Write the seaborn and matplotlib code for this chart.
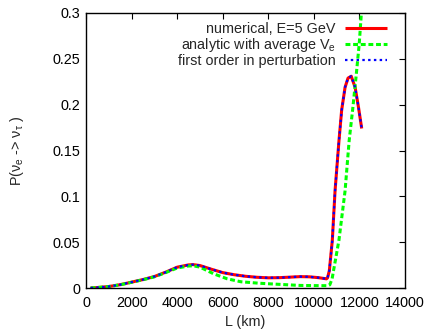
import matplotlib
matplotlib.use("Agg")
import matplotlib.pyplot as plt
import seaborn as sns
import pandas as pd

# ---- data ----
L_num = [200, 500, 1000, 1500, 2000, 2500, 3000, 3500, 4000, 4500, 4700, 5000,
         5500, 6000, 6500, 7000, 7500, 8000, 8500, 9000, 9400, 9800, 10200,
         10550, 10600, 10680, 10810, 10930, 11100, 11220, 11370, 11500, 11640,
         11810, 11960, 12100]
P_num = [0.0, 0.0005, 0.0016, 0.0036, 0.0064, 0.0092, 0.0125, 0.0173, 0.0227,
         0.0252, 0.0255, 0.0245, 0.0205, 0.0168, 0.0145, 0.0128, 0.0117, 0.0111,
         0.0113, 0.0119, 0.0124, 0.0122, 0.0113, 0.0100, 0.0110, 0.019, 0.052,
         0.106, 0.160, 0.194, 0.219, 0.229, 0.231, 0.219, 0.197, 0.174]

L_ana = [200, 500, 1000, 1500, 2000, 2500, 3000, 3500, 4000, 4500, 4700, 5000,
         5600, 6200, 6800, 7600, 8100, 9000, 9400, 10000, 10600, 10700, 10800,
         10900, 11100, 11370, 11550, 11700, 11850, 11990, 12100]
P_ana = [0.0, 0.0005, 0.0016, 0.0035, 0.0062, 0.0090, 0.0122, 0.0168, 0.0218,
         0.0240, 0.0242, 0.0228, 0.0155, 0.0100, 0.0068, 0.0052, 0.0045, 0.0033,
         0.0028, 0.0026, 0.0025, 0.0035, 0.010, 0.024, 0.052, 0.106, 0.161,
         0.194, 0.230, 0.266, 0.305]

L_pert = [200, 500, 1000, 1500, 2000, 2500, 3000, 3500, 4000, 4500, 4700, 5000,
          5500, 6000, 6500, 7000, 7500, 8000, 8500, 9000, 9400, 9800, 10200,
          10550, 10600, 10680, 10810, 10930, 11100, 11220, 11370, 11500, 11640,
          11810, 11960, 12100]
P_pert = [0.0, 0.0005, 0.0016, 0.0036, 0.0064, 0.0092, 0.0125, 0.0173, 0.0227,
          0.0252, 0.0255, 0.0245, 0.0205, 0.0168, 0.0145, 0.0128, 0.0117, 0.0111,
          0.0113, 0.0119, 0.0124, 0.0122, 0.0113, 0.0100, 0.0110, 0.019, 0.052,
          0.106, 0.160, 0.194, 0.219, 0.229, 0.231, 0.219, 0.197, 0.174]

labels = ["numerical, E=5 GeV", "analytic with average V$_e$",
          "first order in perturbation"]
x_ticks = [0, 2000, 4000, 6000, 8000, 10000, 12000, 14000]
y_ticks = [0, 0.05, 0.1, 0.15, 0.2, 0.25, 0.3]
y_tick_labels = ["0", "0.05", "0.1", "0.15", "0.2", "0.25", "0.3"]

sns.set_style("white")
plt.rcParams["font.family"] = ["Liberation Sans", "DejaVu Sans"]
plt.rcParams["mathtext.default"] = "regular"
FS = 10.4

fig = plt.figure(figsize=(4.29, 3.34), dpi=100)
ax = fig.add_axes([86 / 429, 1 - 288 / 334, 319 / 429, 275 / 334])

df_num = pd.DataFrame({"L": L_num, "P": P_num})
df_ana = pd.DataFrame({"L": L_ana, "P": P_ana})
df_pert = pd.DataFrame({"L": L_pert, "P": P_pert})

sns.lineplot(data=df_num, x="L", y="P", ax=ax, color="#ff0000", lw=2.2,
             label=labels[0], sort=False, solid_capstyle="butt")
sns.lineplot(data=df_ana, x="L", y="P", ax=ax, color="#00ff00", lw=2.2,
             label=labels[1], sort=False, dashes=False,
             linestyle=(0, (1.6, 0.9)), dash_capstyle="butt")
sns.lineplot(data=df_pert, x="L", y="P", ax=ax, color="#0000ff", lw=1.6,
             label=labels[2], sort=False, dashes=False,
             linestyle=(0, (1.1, 1.5)), dash_capstyle="butt")

ax.set_xlim(0, 14000)
ax.set_ylim(0, 0.3)
ax.set_xticks(x_ticks)
ax.set_xticklabels([str(t) for t in x_ticks], fontsize=FS)
ax.set_yticks(y_ticks)
ax.set_yticklabels(y_tick_labels, fontsize=FS)
ax.tick_params(direction="in", top=True, right=True, length=4, width=0.8,
               colors="black", pad=6)
ax.tick_params(axis="y", pad=4)
for s in ax.spines.values():
    s.set_visible(True)
    s.set_color("black")
    s.set_linewidth(1.0)

ax.set_xlabel("L (km)", fontsize=FS, labelpad=3.5)
ax.set_ylabel("P(ν$_e$ -> ν$_τ$ )", fontsize=FS, labelpad=19)

leg = ax.legend(loc="upper right", bbox_to_anchor=(0.957, 0.984),
                frameon=False, markerfirst=False,
                fontsize=FS, handlelength=2.9, handletextpad=0.65,
                labelspacing=0.0, borderaxespad=0.0, borderpad=0.3)

fig.savefig("out.png", dpi=100)
